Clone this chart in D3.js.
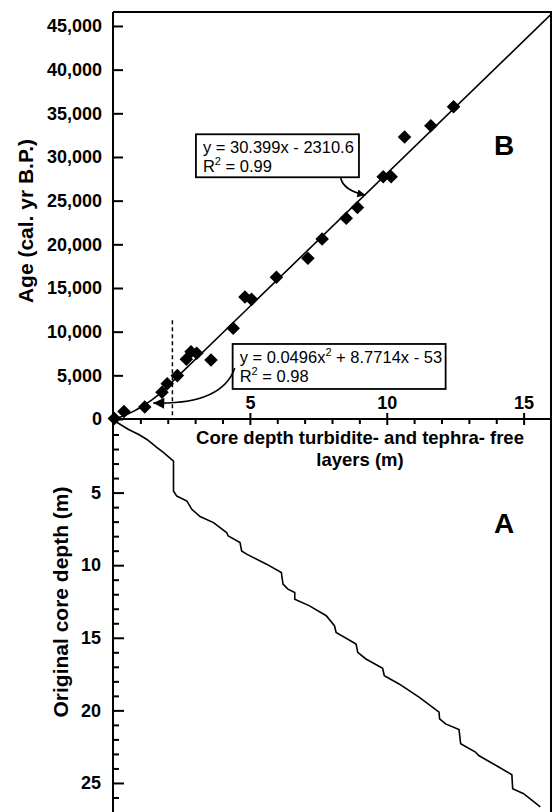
<!DOCTYPE html>
<html>
<head>
<meta charset="utf-8">
<script src="https://cdn.jsdelivr.net/npm/d3@7"></script>
<style>
  body { margin: 0; background: #fff; }
  svg { display: block; font-family: "Liberation Sans", Arial, Helvetica, sans-serif; }
  .axis path, .axis line { stroke: #000; stroke-width: 2; }
  .axis text { font-size: 18px; font-weight: bold; fill: #000; }
  .axisLabel { font-size: 18.5px; font-weight: bold; }
  .yLabel { font-size: 21px; font-weight: bold; }
  .eq { font-size: 16.5px; }
</style>
</head>
<body>
<svg id="chart"></svg>
<script>
// panel B: radiocarbon ages vs turbidite/tephra-free depth (m)
var freeDepth = [0.05, 0.4, 1.16, 1.79, 1.98, 2.35, 2.68, 2.85, 3.06, 3.58, 4.39, 4.82, 5.06,
  5.97, 7.12, 7.64, 8.52, 8.93, 9.87, 10.16, 10.65, 11.61, 12.44];
var ageCal = [50, 850, 1370, 3070, 4030, 4970, 6840, 7710, 7520, 6760, 10380, 13970, 13700,
  16220, 18400, 20610, 22980, 24220, 27730, 27730, 32290, 33570, 35760];

// panel A: free depth vs original core depth (m)
var lineFree = [0, 0.57, 0.94, 1.24, 1.61, 1.85, 2.21, 2.21, 2.33, 2.70, 2.88, 3.18, 3.67, 4.15,
  4.21, 4.64, 4.70, 4.88, 5.61, 6.15, 6.21, 6.39, 6.64, 6.64, 7.18, 7.79, 8.09, 8.15, 8.88, 8.94,
  9.24, 9.85, 9.91, 10.45, 11.18, 11.91, 11.93, 12.15, 12.64, 12.70, 13.24, 13.36, 14.09, 14.57,
  14.60, 15.00, 15.61];
var lineOrig = [0, 0.65, 1.00, 1.34, 1.91, 2.25, 2.83, 4.89, 5.24, 5.58, 6.15, 6.65, 7.07, 7.75,
  7.99, 8.44, 9.02, 9.24, 9.93, 10.50, 11.30, 11.65, 11.88, 12.34, 12.80, 13.48, 14.17, 14.63,
  15.43, 16.00, 16.46, 17.10, 17.61, 18.18, 19.09, 20.12, 20.58, 20.93, 21.32, 22.30, 22.87,
  23.11, 23.90, 24.43, 25.40, 25.74, 26.65];

// regressions as printed (x in cm)
var linCoef = [30.399, -2310.6];
var polyCoef = [0.0496, 8.7714, -53];
var breakDepth = 2.17;

// tick labels
var ageTicks = [0, 5000, 10000, 15000, 20000, 25000, 30000, 35000, 40000, 45000];
var xTicks = [5, 10, 15];
var depthTicks = [5, 10, 15, 20, 25];

var width = 554, height = 812;
var plotL = 113, plotR = 551, plotT = 12, axisY = 419;

var svg = d3.select("#chart").attr("width", width).attr("height", height);

var x = d3.scaleLinear().domain([0, 16]).range([plotL, plotR]);
var yAge = d3.scaleLinear().domain([0, 46600]).range([axisY, plotT]);
var yDepth = d3.scaleLinear().domain([0, 27]).range([420, 812]);

var defs = svg.append("defs");
defs.append("clipPath").attr("id", "clipB")
  .append("rect").attr("x", plotL).attr("y", plotT)
  .attr("width", plotR - plotL).attr("height", axisY - plotT);

// arrow markers
function marker(id, w, h) {
  defs.append("marker")
    .attr("id", id)
    .attr("viewBox", "0 0 10 10")
    .attr("refX", 10).attr("refY", 5)
    .attr("markerUnits", "userSpaceOnUse")
    .attr("markerWidth", w).attr("markerHeight", h)
    .attr("orient", "auto")
    .append("path").attr("d", "M0,0L10,5L0,10z").attr("fill", "#000");
}
marker("arrowBig", 20, 11);
marker("arrowSmall", 14, 8);

// frame (top + right)
svg.append("path")
  .attr("d", "M" + plotL + "," + plotT + "H" + plotR + "V" + height)
  .attr("fill", "none").attr("stroke", "#000").attr("stroke-width", 2);

// Y axis panel B
svg.append("g")
  .attr("class", "axis")
  .attr("transform", "translate(" + plotL + ",0)")
  .call(d3.axisLeft(yAge).tickValues(ageTicks).tickFormat(d3.format(","))
    .tickSizeInner(-10).tickSizeOuter(0).tickPadding(11))
  .select(".domain").remove();

// Y axis panel A
svg.append("g")
  .attr("class", "axis")
  .attr("transform", "translate(" + plotL + ",0)")
  .call(d3.axisLeft(yDepth).tickValues(depthTicks)
    .tickSizeInner(-11).tickSizeOuter(0).tickPadding(12))
  .select(".domain").remove();

svg.append("g")
  .attr("class", "axis")
  .attr("transform", "translate(" + plotL + ",0)")
  .call(d3.axisLeft(yDepth).tickValues(d3.range(1, 27).filter(function(d) { return d % 5; }))
    .tickSizeInner(-6).tickSizeOuter(0).tickFormat(""))
  .select(".domain").remove();

// left axis line
svg.append("line")
  .attr("x1", plotL).attr("x2", plotL).attr("y1", plotT).attr("y2", height)
  .attr("stroke", "#000").attr("stroke-width", 2);

// X axis (labels above line)
svg.append("g")
  .attr("class", "axis")
  .attr("transform", "translate(0," + axisY + ")")
  .call(d3.axisTop(x).tickValues(xTicks).tickSizeInner(6).tickSizeOuter(0).tickPadding(4))
  .select(".domain").remove();

svg.append("g")
  .attr("class", "axis")
  .attr("transform", "translate(0," + axisY + ")")
  .call(d3.axisBottom(x).tickValues(xTicks).tickSizeInner(6).tickSizeOuter(0).tickFormat(""))
  .select(".domain").remove();

svg.append("g")
  .attr("class", "axis")
  .attr("transform", "translate(0," + axisY + ")")
  .call(d3.axisBottom(x).tickValues(d3.range(1, 16).filter(function(d) { return d % 5; }))
    .tickSizeInner(5).tickSizeOuter(0).tickFormat(""))
  .select(".domain").remove();

svg.append("line")
  .attr("x1", plotL).attr("x2", plotR).attr("y1", axisY).attr("y2", axisY)
  .attr("stroke", "#000").attr("stroke-width", 2);

// regression lines
var polyPts = d3.range(0, 41).map(function(i) {
  var d = breakDepth * i / 40, c = d * 100;
  return [d, polyCoef[0] * c * c + polyCoef[1] * c + polyCoef[2]];
});
var linPts = [breakDepth, 16].map(function(d) {
  return [d, linCoef[0] * d * 100 + linCoef[1]];
});
var reg = d3.line()
  .x(function(d) { return x(d[0]); })
  .y(function(d) { return yAge(d[1]); });

svg.append("path")
  .datum(polyPts.concat(linPts))
  .attr("clip-path", "url(#clipB)")
  .attr("d", reg)
  .attr("fill", "none").attr("stroke", "#000").attr("stroke-width", 1.6);

// dashed break
svg.append("line")
  .attr("x1", x(breakDepth)).attr("x2", x(breakDepth))
  .attr("y1", yAge(11300)).attr("y2", axisY)
  .attr("stroke", "#000").attr("stroke-width", 1.5)
  .attr("stroke-dasharray", "4,3");

// data points
svg.selectAll(".pt")
  .data(freeDepth)
  .enter().append("path")
  .attr("class", "pt")
  .attr("d", d3.symbol().type(d3.symbolSquare).size(92))
  .attr("transform", function(d, i) {
    return "translate(" + x(d) + "," + yAge(ageCal[i]) + ") rotate(45)";
  })
  .attr("fill", "#000");

// panel A line
svg.append("path")
  .datum(lineFree)
  .attr("d", d3.line()
    .x(function(d) { return x(d); })
    .y(function(d, i) { return yDepth(lineOrig[i]); }))
  .attr("fill", "none").attr("stroke", "#000").attr("stroke-width", 1.6);

// equation boxes
function eqBox(bx, by, w, h, l1, sup1, rest1, r2) {
  var g = svg.append("g").attr("transform", "translate(" + x(bx) + "," + yAge(by) + ")");
  g.append("rect").attr("width", w).attr("height", h)
    .attr("fill", "#fff").attr("stroke", "#000").attr("stroke-width", 1.8);
  var t = g.append("text").attr("class", "eq").attr("x", 7).attr("y", 19);
  t.append("tspan").text(l1);
  if (sup1) {
    t.append("tspan").attr("font-size", "11px").attr("dy", -7).text(sup1);
    t.append("tspan").attr("dy", 7).text(rest1);
  }
  var t2 = g.append("text").attr("class", "eq").attr("x", 7).attr("y", 38);
  t2.append("tspan").text("R");
  t2.append("tspan").attr("font-size", "11px").attr("dy", -7).text("2");
  t2.append("tspan").attr("dy", 7).text(" = " + r2);
}
eqBox(3.03, 32600, 163, 43, "y = 30.399x - 2310.6", null, null, "0.99");
eqBox(4.37, 8590, 213, 45, "y = 0.0496x", "2", " + 8.7714x - 53", "0.98");

// arrows (data coords)
var arrows = [
  { pts: [[4.45, 5840], [3.98, 1600], [1.47, 1830]], m: "arrowBig" },
  { pts: [[8.31, 27710], [8.40, 26150], [9.22, 25650]], m: "arrowSmall" }
];
arrows.forEach(function(a) {
  var p = a.pts.map(function(d) { return [x(d[0]), yAge(d[1])]; });
  svg.append("path")
    .attr("d", "M" + p[0] + "Q" + p[1] + " " + p[2])
    .attr("fill", "none").attr("stroke", "#000").attr("stroke-width", 1.6)
    .attr("marker-end", "url(#" + a.m + ")");
});

// panel letters
svg.append("text").attr("x", 494).attr("y", 155)
  .style("font-size", "28px").style("font-weight", "bold").text("B");
svg.append("text").attr("x", 494).attr("y", 533)
  .style("font-size", "28px").style("font-weight", "bold").text("A");

// axis titles
svg.append("text")
  .attr("class", "yLabel")
  .attr("transform", "translate(33,221) rotate(-90)")
  .style("text-anchor", "middle")
  .text("Age (cal. yr B.P.)");

svg.append("text")
  .attr("class", "yLabel")
  .attr("transform", "translate(68,602) rotate(-90)")
  .style("text-anchor", "middle")
  .text("Original core depth (m)");

svg.append("text")
  .attr("class", "axisLabel")
  .attr("x", 360).attr("y", 444)
  .style("text-anchor", "middle")
  .text("Core depth turbidite- and tephra- free");
svg.append("text")
  .attr("class", "axisLabel")
  .attr("x", 360).attr("y", 466)
  .style("text-anchor", "middle")
  .text("layers (m)");
</script>
</body>
</html>
